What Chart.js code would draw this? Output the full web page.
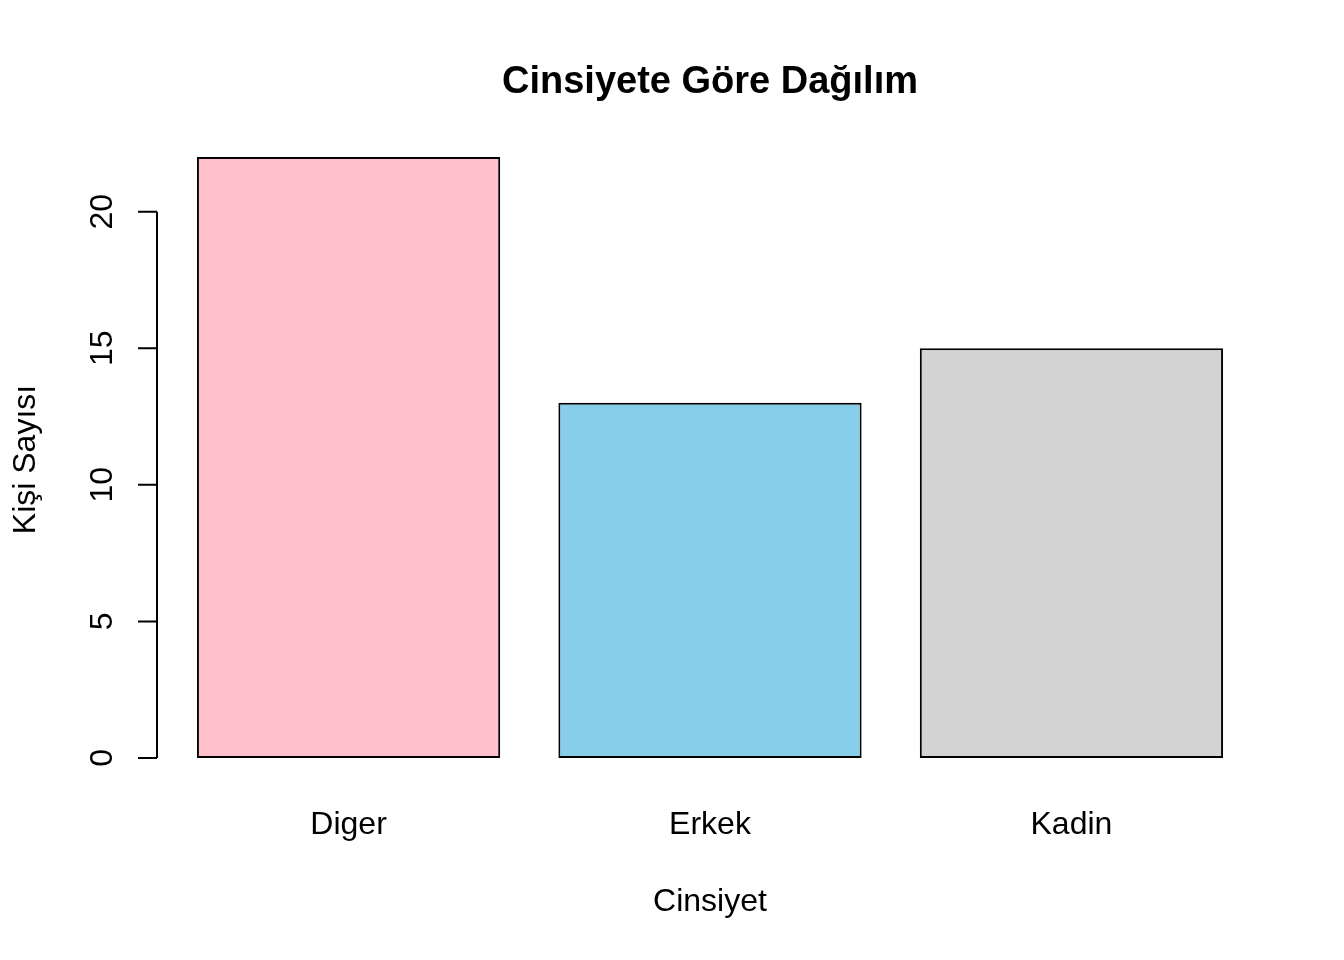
<!DOCTYPE html>
<html>
<head>
<meta charset="utf-8">
<script src="https://cdn.jsdelivr.net/npm/chart.js@4/dist/chart.umd.min.js"></script>
<style>
  body { margin: 0; background: #fff; }
  canvas { display: block; }
</style>
</head>
<body>
<canvas id="grafico" width="1344" height="960"></canvas>
<script>
// datos
const categorias = ['Diger', 'Erkek', 'Kadin']
const kisiSayisi = [22, 13, 15]
const renkler = ['#FFC0CB', '#87CEEB', '#D3D3D3']
const yTicks = [0, 5, 10, 15, 20]

const titulo = 'Cinsiyete Göre Dağılım'
const xBaslik = 'Cinsiyet'
const yBaslik = 'Kişi Sayısı'

const fuente = '"Liberation Sans", Arial, sans-serif'

// barplot de R: ancho 1, espacio 0.2 -> centros 0.7, 1.9, 3.1
const posiciones = categorias.map((c, i) => 0.7 + 1.2 * i)

// ejes, textos y titulo al estilo R
const ejesR = {
  id: 'ejesR',
  afterDraw(chart) {
    const ctx = chart.ctx
    const area = chart.chartArea
    const xs = chart.scales.x
    const ys = chart.scales.y
    ctx.save()
    ctx.fillStyle = '#000'
    ctx.strokeStyle = '#000'
    ctx.lineWidth = 2

    // eje y
    const y0 = ys.getPixelForValue(yTicks[0])
    const y1 = ys.getPixelForValue(yTicks[yTicks.length - 1])
    ctx.beginPath()
    ctx.moveTo(area.left, y0)
    ctx.lineTo(area.left, y1)
    yTicks.forEach(t => {
      const py = ys.getPixelForValue(t)
      ctx.moveTo(area.left - 19, py)
      ctx.lineTo(area.left, py)
    })
    ctx.stroke()

    ctx.font = '32px ' + fuente
    ctx.textAlign = 'center'
    ctx.textBaseline = 'alphabetic'
    yTicks.forEach(t => {
      const py = ys.getPixelForValue(t)
      ctx.save()
      ctx.translate(area.left - 45, py)
      ctx.rotate(-Math.PI / 2)
      ctx.fillText(String(t), 0, 0)
      ctx.restore()
    })

    // etiquetas x
    categorias.forEach((c, i) => {
      ctx.fillText(c, xs.getPixelForValue(posiciones[i]), area.bottom + 52)
    })

    const cx = (area.left + area.right) / 2
    const cy = (area.top + area.bottom) / 2
    ctx.fillText(xBaslik, cx, area.bottom + 129)

    ctx.save()
    ctx.translate(area.left - 122, cy + 2)
    ctx.rotate(-Math.PI / 2)
    ctx.fillText(yBaslik, 0, 0)
    ctx.restore()

    ctx.font = 'bold 38px ' + fuente
    ctx.fillText(titulo, cx, area.top - 40)
    ctx.restore()
  }
}

new Chart(document.getElementById('grafico'), {
  type: 'bar',
  data: {
    datasets: [{
      label: yBaslik,
      data: kisiSayisi.map((v, i) => ({ x: posiciones[i], y: v })),
      backgroundColor: renkler,
      borderColor: '#000',
      borderWidth: 2,
      borderSkipped: false,
      categoryPercentage: 1,
      barPercentage: 0.839
    }]
  },
  options: {
    responsive: false,
    animation: false,
    devicePixelRatio: 1,
    layout: { padding: { left: 157, right: 81, top: 133, bottom: 178 } },
    plugins: {
      legend: { display: false },
      title: { display: false },
      tooltip: { enabled: false }
    },
    scales: {
      x: {
        type: 'linear', min: 0.064, max: 3.736, offset: false, display: false,
        afterBuildTicks: scale => { scale.ticks = posiciones.map(v => ({ value: v })) }
      },
      y: { min: -0.88, max: 22.88, display: false }
    }
  },
  plugins: [ejesR]
})
</script>
</body>
</html>
